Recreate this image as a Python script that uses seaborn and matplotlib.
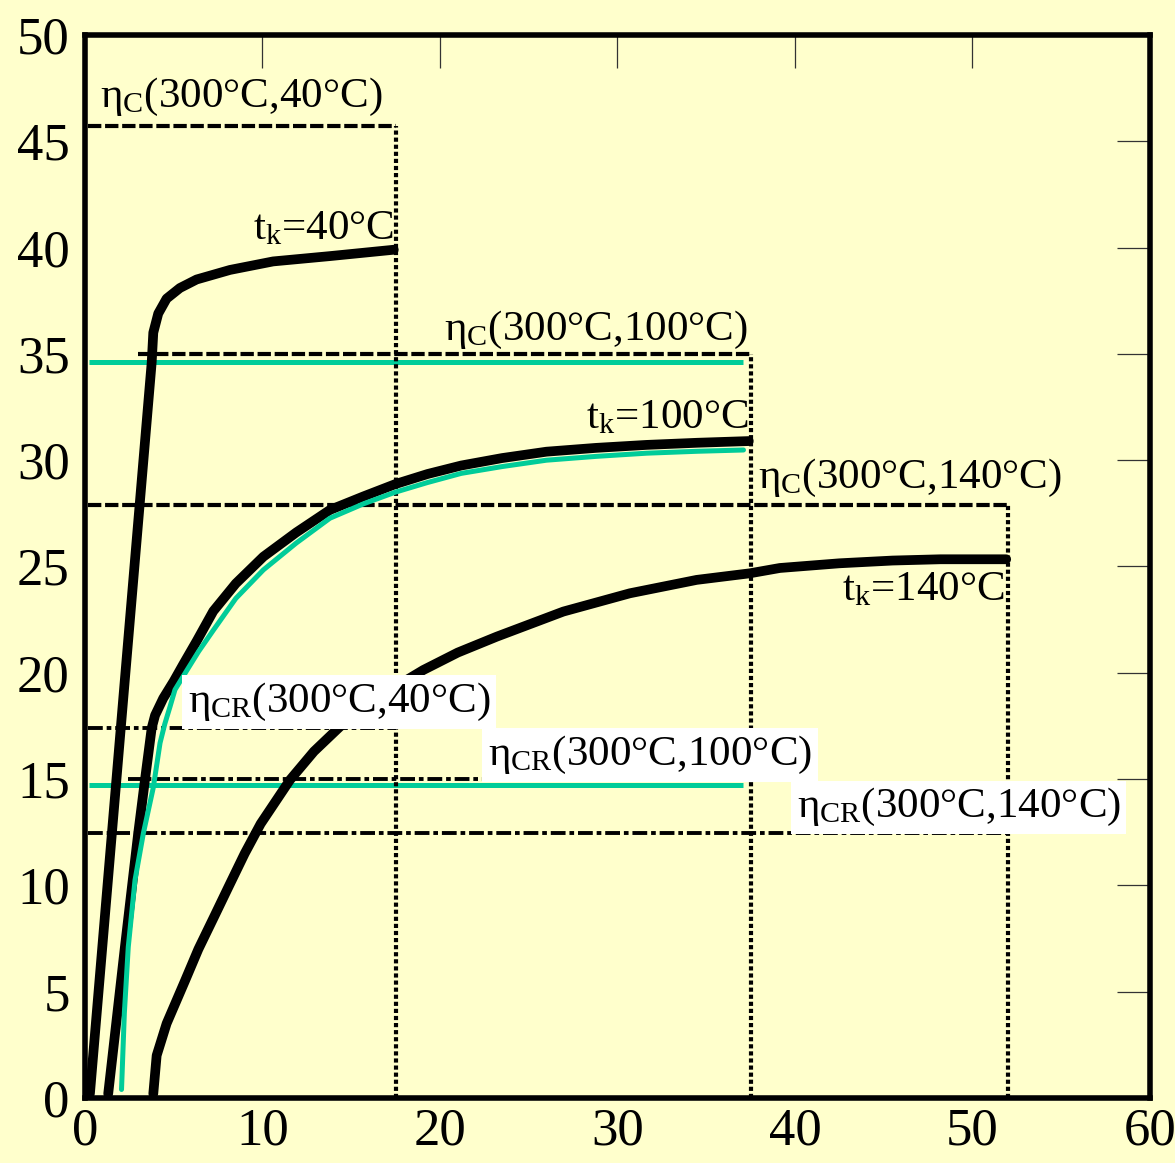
import matplotlib
matplotlib.use("Agg")
import matplotlib.pyplot as plt
import seaborn as sns
import pandas as pd

# Loaded-efficiency curves for three cold-side temperatures t_k
x_tk40 = [0.28, 2.25, 3.76, 3.85, 4.13, 4.6, 5.35, 6.29, 8.17, 10.6, 13.8, 17.4]
y_tk40 = [0.2, 19.7, 34.6, 36.0, 36.9, 37.6, 38.1, 38.5, 38.95, 39.35, 39.6, 39.9]

x_tk100 = [1.31, 2.25, 3.0, 3.38, 3.76, 3.95, 4.41, 5.0, 5.54, 6.3, 7.23, 8.5, 10.05, 11.9,
           13.8, 15.7, 17.5, 19.3, 21.2, 23.5, 26.0, 28.8, 31.65, 34.5, 37.4]
y_tk100 = [0.2, 7.1, 12.45, 14.96, 17.4, 18.0, 18.8, 19.6, 20.4, 21.5, 22.9, 24.2, 25.46, 26.6,
           27.66, 28.3, 28.88, 29.35, 29.75, 30.1, 30.4, 30.58, 30.72, 30.82, 30.9]

x_tk140 = [3.85, 4.04, 4.6, 5.63, 6.39, 7.32, 8.07, 9.0, 9.9, 11.55, 12.9, 14.37, 16.0, 17.5,
           19.06, 21.0, 23.2, 26.95, 30.7, 34.46, 37.46, 39.15, 42.5, 45.5, 48.2, 51.9]
y_tk140 = [0.2, 2.0, 3.5, 5.5, 7.0, 8.6, 9.9, 11.5, 12.9, 14.96, 16.3, 17.47, 18.5, 19.35,
           20.13, 20.95, 21.7, 22.88, 23.74, 24.37, 24.68, 24.93, 25.15, 25.28, 25.34, 25.34]

# Fitted curve for t_k = 100 °C
x_fit100 = [2.06, 2.22, 2.44, 2.82, 3.29, 3.85, 4.23, 4.5, 4.79, 5.07, 5.73, 6.4, 7.23, 8.5,
            10.05, 11.9, 13.8, 15.7, 17.5, 19.3, 21.2, 23.5, 26.0, 28.8, 31.65, 34.5, 37.1]
y_fit100 = [0.4, 4.0, 7.1, 10.25, 12.45, 14.6, 16.7, 17.6, 18.4, 19.2, 20.1, 21.0, 22.0, 23.5,
            24.84, 26.1, 27.27, 27.95, 28.5, 28.95, 29.38, 29.7, 30.0, 30.18, 30.33, 30.42, 30.48]

# Carnot efficiency levels eta_C(300 °C, t_k) and their x extent
eta_c_level = [45.7, 35.0, 27.9]
eta_c_x0 = [0.15, 3.0, 0.15]
eta_c_x1 = [17.5, 37.5, 52.0]

# Curzon-Ahlborn efficiency levels eta_CR(300 °C, t_k)
eta_cr_level = [17.4, 15.0, 12.45]
eta_cr_x0 = [0.15, 2.4, 0.15]
eta_cr_x1 = [17.5, 37.5, 52.0]

# Horizontal fit levels for t_k = 100 °C
fit_level = [34.6, 14.7]
fit_x0 = [0.2, 0.2]
fit_x1 = [37.1, 37.1]

x_ticks = [0, 10, 20, 30, 40, 50, 60]
y_ticks = [0, 5, 10, 15, 20, 25, 30, 35, 40, 45, 50]

BG = "#FFFFCC"
GREEN = "#00CC99"

sns.set_theme(style="white")
plt.rcParams["font.family"] = ["Liberation Serif", "DejaVu Serif"]
plt.rcParams["mathtext.fontset"] = "custom"
plt.rcParams["mathtext.rm"] = "Liberation Serif"
plt.rcParams["mathtext.it"] = "Liberation Serif:italic"
plt.rcParams["text.color"] = "black"
plt.rcParams["xtick.color"] = "black"
plt.rcParams["ytick.color"] = "black"

fig = plt.figure(figsize=(11.75, 11.63), dpi=100, facecolor=BG)
ax = fig.add_axes([0.0723, 0.0559, 0.9064, 0.914], facecolor=BG)

# reference levels
for lv, a, b in zip(eta_c_level, eta_c_x0, eta_c_x1):
    ax.plot([a, b], [lv, lv], color="black", lw=3, dashes=(3.2, 0.9), zorder=2)
    ax.plot([b, b], [0, lv], color="black", lw=3, dashes=(1, 0.7), zorder=4)
for lv, a, b in zip(eta_cr_level, eta_cr_x0, eta_cr_x1):
    ax.plot([a, b], [lv, lv], color="black", lw=2.8, dashes=(3.8, 1.0, 1.2, 1.0), zorder=2)
for lv, a, b in zip(fit_level, fit_x0, fit_x1):
    ax.plot([a, b], [lv, lv], color=GREEN, lw=3.6, solid_capstyle="butt", zorder=3)

curves = [(x_tk40, y_tk40), (x_tk100, y_tk100), (x_tk140, y_tk140)]
for xs, ys in curves:
    df = pd.DataFrame({"x": xs, "y": ys})
    sns.lineplot(data=df, x="x", y="y", sort=False, estimator=None, ax=ax,
                 color="black", lw=7, zorder=5)
df_fit = pd.DataFrame({"x": x_fit100, "y": y_fit100})
sns.lineplot(data=df_fit, x="x", y="y", sort=False, estimator=None, ax=ax,
             color=GREEN, lw=3.6, zorder=6)
for ln in ax.get_lines():
    ln.set_solid_joinstyle("round")

fs = 31
ax.text(0.85, 46.6, r"η$_{\mathrm{C}}$(300°C,40°C)", fontsize=fs, va="baseline", ha="left")
ax.text(20.2, 35.65, r"η$_{\mathrm{C}}$(300°C,100°C)", fontsize=fs, va="baseline", ha="left")
ax.text(37.9, 28.7, r"η$_{\mathrm{C}}$(300°C,140°C)", fontsize=fs, va="baseline", ha="left")
ax.text(17.4, 40.4, r"t$_{\mathrm{k}}$=40°C", fontsize=fs, va="baseline", ha="right", zorder=7)
ax.text(37.4, 31.5, r"t$_{\mathrm{k}}$=100°C", fontsize=fs, va="baseline", ha="right", zorder=7)
ax.text(51.8, 23.4, r"t$_{\mathrm{k}}$=140°C", fontsize=fs, va="baseline", ha="right", zorder=7)
box = dict(facecolor="white", edgecolor="none", pad=4)
ax.text(5.8, 18.15, r"η$_{\mathrm{CR}}$(300°C,40°C)", fontsize=fs, va="baseline", ha="left", bbox=box, zorder=7)
ax.text(22.7, 15.66, r"η$_{\mathrm{CR}}$(300°C,100°C)", fontsize=fs, va="baseline", ha="left", bbox=box, zorder=7)
ax.text(40.1, 13.2, r"η$_{\mathrm{CR}}$(300°C,140°C)", fontsize=fs, va="baseline", ha="left", bbox=box, zorder=7)

ax.set_xlim(0, 60)
ax.set_ylim(0, 50)
ax.set_xticks(x_ticks)
ax.set_yticks(y_ticks)
ax.set_xlabel("")
ax.set_ylabel("")
ax.tick_params(direction="in", length=24, width=0.9, color="#333333", labelcolor="black",
               top=True, right=True, labelsize=38)
ax.tick_params(axis="x", pad=7)
ax.tick_params(axis="y", pad=11)
for s in ax.spines.values():
    s.set_linewidth(4)
    s.set_color("black")
    s.set_visible(True)

fig.savefig("out.png", dpi=100, facecolor=BG)
